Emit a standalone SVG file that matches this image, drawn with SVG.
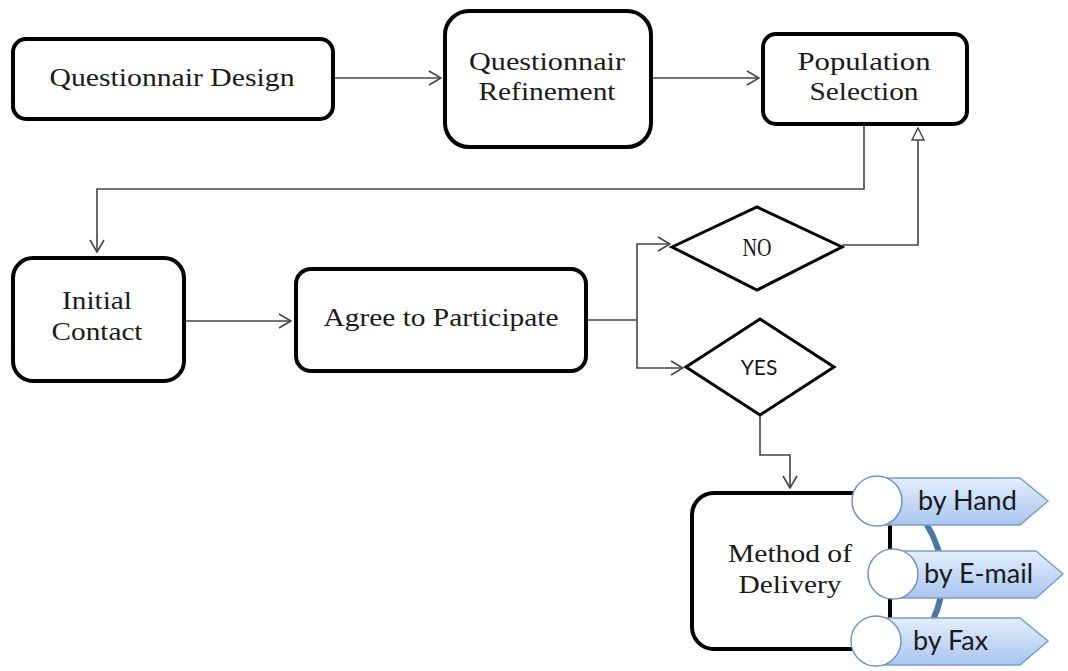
<svg xmlns="http://www.w3.org/2000/svg" width="1068" height="671" viewBox="0 0 1068 671">
<defs>
<style>
.box{fill:#fff;stroke:#000;stroke-width:4}
.dia{fill:#fff;stroke:#000;stroke-width:3}
.t{font-family:"Palatino Linotype","Liberation Serif","DejaVu Serif",serif;font-size:25px;fill:#1a1a1a;text-anchor:middle}
.c{fill:none;stroke:#444;stroke-width:1.6}
.pill{fill:url(#pg);stroke:#7a9dcc;stroke-width:1.5}
.circ{fill:#fff;stroke:#6f93c4;stroke-width:1.5}
.pt{font-family:Lato,"Open Sans","Liberation Sans",sans-serif;font-size:27px;fill:#1a1a1a}
</style>
<linearGradient id="pg" x1="0" y1="0" x2="0" y2="1">
<stop offset="0" stop-color="#e3eefc"/>
<stop offset="1" stop-color="#a9c5ef"/>
</linearGradient>
<marker id="open" viewBox="0 0 14 16" refX="13" refY="8" markerWidth="14" markerHeight="16" markerUnits="userSpaceOnUse" orient="auto">
<path d="M1 1 L13 8 L1 15" fill="none" stroke="#444" stroke-width="1.6"/>
</marker>
<marker id="tri" viewBox="0 0 14 16" refX="13" refY="8" markerWidth="14" markerHeight="16" markerUnits="userSpaceOnUse" orient="auto">
<path d="M1 2 L13 8 L1 14 Z" fill="#fff" stroke="#444" stroke-width="1.4"/>
</marker>
</defs>
<rect width="1068" height="671" fill="#fff"/>
<g id="connectors">
<line class="c" x1="335" y1="78" x2="441" y2="78" marker-end="url(#open)"/>
<line class="c" x1="653" y1="78" x2="759" y2="78" marker-end="url(#open)"/>
<polyline class="c" points="864,126 864,189 97,189 97,252" marker-end="url(#open)"/>
<line class="c" x1="186" y1="321" x2="291" y2="321" marker-end="url(#open)"/>
<line class="c" x1="588" y1="320" x2="637" y2="320"/>
<polyline class="c" points="637,320 637,244 670,244" marker-end="url(#open)"/>
<polyline class="c" points="637,320 637,368 683,368" marker-end="url(#open)"/>
<polyline class="c" points="842,245 918,245 918,128" marker-end="url(#tri)"/>
<polyline class="c" points="760,415 760,455 790,455 790,488" marker-end="url(#open)"/>
</g>
<g id="n1">
<rect class="box" x="13" y="39" width="320" height="80" rx="13"/>
<text class="t" x="172" y="86" textLength="245" lengthAdjust="spacingAndGlyphs">Questionnair Design</text>
</g>
<g id="n2">
<rect class="box" x="445" y="11" width="206" height="136" rx="24"/>
<text class="t" x="547" y="70" textLength="156" lengthAdjust="spacingAndGlyphs">Questionnair</text>
<text class="t" x="547" y="100" textLength="137" lengthAdjust="spacingAndGlyphs">Refinement</text>
</g>
<g id="n3">
<rect class="box" x="763" y="34" width="204" height="90" rx="13"/>
<text class="t" x="864" y="70" textLength="133" lengthAdjust="spacingAndGlyphs">Population</text>
<text class="t" x="864" y="100" textLength="109" lengthAdjust="spacingAndGlyphs">Selection</text>
</g>
<g id="n4">
<rect class="box" x="13" y="258" width="171" height="123" rx="20"/>
<text class="t" x="97" y="309" textLength="70" lengthAdjust="spacingAndGlyphs">Initial</text>
<text class="t" x="97" y="340" textLength="91" lengthAdjust="spacingAndGlyphs">Contact</text>
</g>
<g id="n5">
<rect class="box" x="296" y="269" width="290" height="102" rx="15"/>
<text class="t" x="441" y="326" textLength="235" lengthAdjust="spacingAndGlyphs">Agree to Participate</text>
</g>
<g id="no">
<polygon class="dia" points="672,247 757,207 842,247 757,290"/>
<text class="t" x="757" y="256" font-size="21" textLength="29" lengthAdjust="spacingAndGlyphs">NO</text>
</g>
<g id="yes">
<polygon class="dia" points="686,367 760,319 834,367 760,415"/>
<text x="759" y="375" font-family="Lato,'Open Sans','Liberation Sans',sans-serif" font-size="21" fill="#1a1a1a" text-anchor="middle">YES</text>
</g>
<g id="n6">
<rect class="box" x="692" y="493" width="198" height="156" rx="22"/>
<text class="t" x="790" y="562" textLength="124" lengthAdjust="spacingAndGlyphs">Method of</text>
<text class="t" x="790" y="593" textLength="103" lengthAdjust="spacingAndGlyphs">Delivery</text>
</g>
<g id="delivery-options">
<path d="M926 523 Q956 573 932 622" fill="none" stroke="#4a76a8" stroke-width="6"/>
<g id="opt-hand">
<path class="pill" d="M877 478 H1020 L1048 501 L1020 525 H877 Z"/>
<circle class="circ" cx="877" cy="501" r="25"/>
<text class="pt" x="918" y="510">by Hand</text>
</g>
<g id="opt-email">
<path class="pill" d="M893 551 H1036 L1063 574 L1036 598 H893 Z"/>
<circle class="circ" cx="893" cy="574" r="25"/>
<text class="pt" x="924" y="583">by E-mail</text>
</g>
<g id="opt-fax">
<path class="pill" d="M876 618 H1020 L1048 641 L1020 665 H876 Z"/>
<circle class="circ" cx="876" cy="641" r="25"/>
<text class="pt" x="913" y="650">by Fax</text>
</g>
</g>
</svg>
